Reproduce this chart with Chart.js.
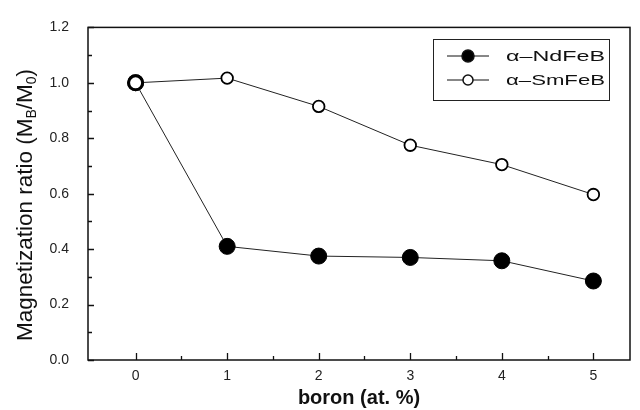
<!DOCTYPE html>
<html>
<head>
<meta charset="utf-8">
<script src="https://cdn.jsdelivr.net/npm/chart.js@4/dist/chart.umd.min.js"></script>
<style>
  html, body { margin: 0; padding: 0; background: #fff; }
  #wrap { width: 640px; height: 410px; }
</style>
</head>
<body>
<div id="wrap"><canvas id="chart" width="640" height="410"></canvas></div>
<script>
// data
var boron = [0, 1, 2, 3, 4, 5];
var ndfeb = [1.0, 0.41, 0.375, 0.37, 0.358, 0.285];
var smfeb = [1.0, 1.017, 0.915, 0.775, 0.705, 0.597];
var xTicks = [0, 1, 2, 3, 4, 5];
var yTicks = [0.0, 0.2, 0.4, 0.6, 0.8, 1.0, 1.2];
var seriesNames = ['\u03b1\u2013NdFeB', '\u03b1\u2013SmFeB'];

var tickFont = '"Liberation Sans Narrow", "Arial Narrow", "Liberation Sans", Arial, sans-serif';

function pts(ys) {
    var out = [];
    for (var i in boron) {
        out.push({x: boron[i], y: ys[i]});
    }
    return out;
}

// frame, inward ticks, y title with subscripts, legend box
var decor = {
    id: 'decor',
    afterDraw: function(chart) {
        var c = chart.ctx;
        var a = chart.chartArea;
        var xs = chart.scales.x, ys = chart.scales.y;
        c.save();
        c.strokeStyle = '#111';
        c.lineWidth = 1.5;
        c.strokeRect(a.left, a.top, a.right - a.left, a.bottom - a.top);

        c.lineWidth = 1.3;
        c.beginPath();
        for (var v = 0; v <= 1.2001; v += 0.1) {
            var py = Math.round(ys.getPixelForValue(v)) + 0.5;
            var major = Math.abs(v * 5 - Math.round(v * 5)) < 0.001;
            c.moveTo(a.left, py);
            c.lineTo(a.left + (major ? 6 : 4), py);
        }
        for (var u = 0; u <= 5.0001; u += 0.5) {
            var px = Math.round(xs.getPixelForValue(u)) + 0.5;
            var maj = Math.abs(u - Math.round(u)) < 0.001;
            c.moveTo(px, a.bottom);
            c.lineTo(px, a.bottom - (maj ? 7 : 4));
        }
        c.stroke();

        // y axis title
        c.fillStyle = '#111';
        c.translate(26, 205);
        c.rotate(-Math.PI / 2);
        var big = '22.5px "Liberation Sans", Arial, sans-serif';
        var sm = '14px "Liberation Sans", Arial, sans-serif';
        var parts = [
            ['Magnetization ratio (M', big, 0],
            ['B', sm, 6],
            ['/M', big, 0],
            ['0', sm, 6],
            [')', big, 0]
        ];
        var total = 0;
        for (var i = 0; i < parts.length; i++) {
            c.font = parts[i][1];
            total += c.measureText(parts[i][0]).width;
        }
        var tx = -total / 2;
        c.textBaseline = 'middle';
        for (var j = 0; j < parts.length; j++) {
            c.font = parts[j][1];
            c.fillText(parts[j][0], tx, parts[j][2]);
            tx += c.measureText(parts[j][0]).width;
        }
        c.setTransform(1, 0, 0, 1, 0, 0);

        // legend
        c.lineWidth = 1;
        c.strokeStyle = '#222';
        c.strokeRect(433.5, 39.5, 176, 61);
        var rows = [56, 80];
        c.font = '15px "Liberation Sans", Arial, sans-serif';
        c.textBaseline = 'middle';
        for (var k = 0; k < 2; k++) {
            var yy = rows[k];
            c.beginPath();
            c.moveTo(447, yy);
            c.lineTo(489, yy);
            c.strokeStyle = '#111';
            c.lineWidth = 1;
            c.stroke();
            c.beginPath();
            c.arc(468, yy, k == 0 ? 6 : 5, 0, Math.PI * 2);
            c.fillStyle = k == 0 ? '#000' : '#fff';
            c.fill();
            c.lineWidth = 1.5;
            c.stroke();
            // the scanned legend text is stretched wide
            var w = c.measureText(seriesNames[k]).width;
            c.save();
            c.translate(506, yy + 1);
            c.scale(99 / w, 1);
            c.fillStyle = '#111';
            c.fillText(seriesNames[k], 0, 0);
            c.restore();
        }
        c.restore();
    }
};

var ctx = document.getElementById('chart');
var chart = new Chart(ctx, {
    type: 'line',
    data: {
        datasets: [
            {
                label: seriesNames[1],
                data: pts(smfeb),
                borderColor: '#222',
                borderWidth: 1,
                pointRadius: [7, 5.8, 5.8, 5.8, 5.8, 5.8],
                pointBorderWidth: [3, 1.8, 1.8, 1.8, 1.8, 1.8],
                pointBackgroundColor: '#fff',
                pointBorderColor: '#000',
                fill: false,
                tension: 0
            },
            {
                label: seriesNames[0],
                data: pts(ndfeb),
                borderColor: '#222',
                borderWidth: 1,
                pointRadius: [7, 8, 8, 8, 8, 8],
                pointBorderWidth: [3, 1, 1, 1, 1, 1],
                pointBackgroundColor: ['#fff', '#000', '#000', '#000', '#000', '#000'],
                pointBorderColor: '#000',
                fill: false,
                tension: 0
            }
        ]
    },
    options: {
        responsive: false,
        animation: false,
        layout: { padding: { top: 14, right: 8, left: 0, bottom: 0 } },
        plugins: {
            legend: { display: false },
            tooltip: { enabled: false }
        },
        scales: {
            x: {
                type: 'linear',
                min: -0.52,
                max: 5.4,
                afterFit: function(s) { s.height = 50; },
                afterBuildTicks: function(s) {
                    s.ticks = xTicks.map(function(v) { return {value: v}; });
                },
                grid: { display: false, drawTicks: false },
                border: { display: false },
                ticks: {
                    padding: 8,
                    color: '#222',
                    font: { family: tickFont, size: 14 }
                },
                title: {
                    display: true,
                    text: 'boron (at. %)',
                    color: '#111',
                    padding: { top: 0, bottom: 0 },
                    font: { family: '"Liberation Sans", Arial, sans-serif', size: 20, weight: 'bold' }
                }
            },
            y: {
                min: 0,
                max: 1.2,
                afterFit: function(s) { s.width = 88; },
                afterBuildTicks: function(s) {
                    s.ticks = yTicks.map(function(v) { return {value: v}; });
                },
                grid: { display: false, drawTicks: false },
                border: { display: false },
                ticks: {
                    padding: 19,
                    color: '#222',
                    callback: function(v) { return v.toFixed(1); },
                    font: { family: tickFont, size: 14 }
                }
            }
        }
    },
    plugins: [decor]
});
</script>
</body>
</html>
